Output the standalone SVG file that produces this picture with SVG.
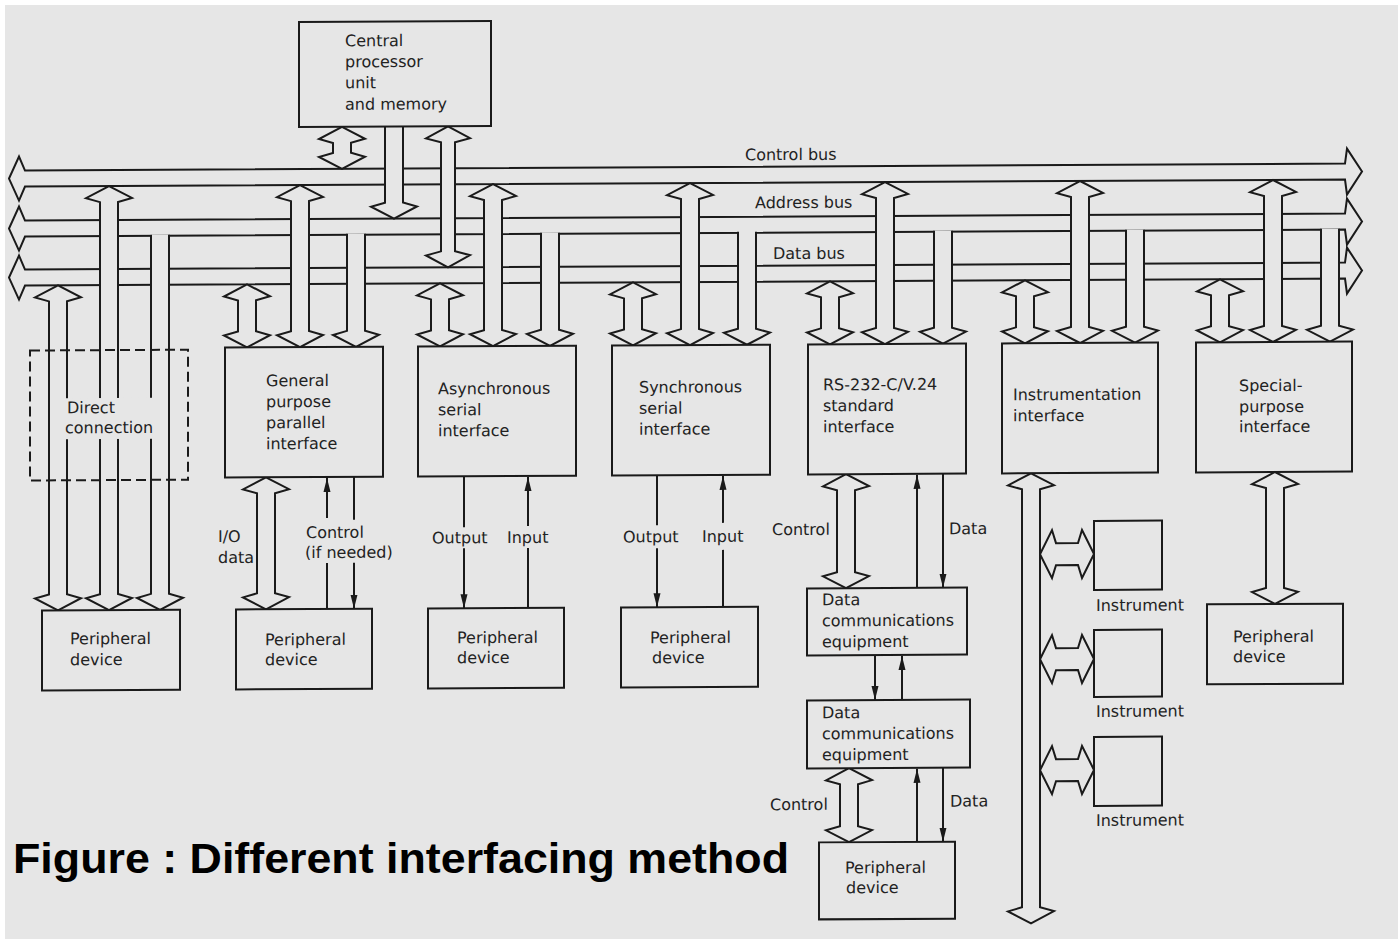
<svg xmlns="http://www.w3.org/2000/svg" width="1400" height="941" viewBox="0 0 1400 941">
<defs>
<style>
.arr{fill:#e6e6e6;stroke:#1a1a1a;stroke-width:2;stroke-linejoin:miter}
.box{fill:#e6e6e6;stroke:#1a1a1a;stroke-width:2}
.dash{fill:none;stroke:#1a1a1a;stroke-width:2;stroke-dasharray:10 5}
.ln{fill:none;stroke:#1a1a1a;stroke-width:2}
.ar{fill:none;stroke:#1a1a1a;stroke-width:2;marker-end:url(#ah)}
.t{font-family:"DejaVu Sans","Liberation Sans",sans-serif;font-size:16px;fill:#222}
.cap{font-family:"Liberation Sans",Arial,sans-serif;font-weight:bold;font-size:43px;fill:#000}
</style>
<marker id="ah" markerUnits="userSpaceOnUse" markerWidth="14" markerHeight="8" refX="14" refY="4" orient="auto">
<path d="M0,0.5 L14,4 L0,7.5 Z" fill="#1a1a1a"/>
</marker>
</defs>
<rect x="0" y="0" width="1400" height="941" fill="#ffffff"/>
<rect x="5" y="5" width="1393" height="934" fill="#e6e6e6"/>
<g transform="translate(0,3.665) skewY(-0.3)">
<g id="connectors">
<!-- buses -->
<path class="arr" d="M25,167 L1345,167 L1347,152 L1362,175 L1347,198 L1345,183 L25,183 L19,197 L9,175 L19,153 Z"/>
<path class="arr" d="M25,217 L1345,217 L1347,202 L1362,225 L1347,248 L1345,233 L25,233 L19,247 L9,225 L19,203 Z"/>
<path class="arr" d="M25,266 L1345,266 L1347,251 L1362,274 L1347,297 L1345,282 L25,282 L19,296 L9,274 L19,252 Z"/>
<!-- CPU links -->
<path class="arr" d="M342,125 L365,137 L351,141 L351,151 L365,155 L342,167 L319,155 L333,151 L333,141 L319,137 Z"/>
<path class="arr" d="M385,125 L385,201 L371,205 L394,217 L417,205 L403,201 L403,125"/>
<path class="arr" d="M448,125 L470,137 L455,141 L455,250 L470,254 L448,266 L426,254 L441,250 L441,141 L426,137 Z"/>
<!-- direct connection -->
<path class="arr" d="M58,282 L81,294 L67,298 L67,591 L81,595 L58,607 L35,595 L49,591 L49,298 L35,294 Z"/>
<path class="arr" d="M109,183 L132,195 L118,199 L118,591 L132,595 L109,607 L86,595 L100,591 L100,199 L86,195 Z"/>
<path class="arr" d="M151,232 L151,591 L137,595 L160,607 L183,595 L169,591 L169,232"/>
<!-- general purpose -->
<path class="arr" d="M247,282 L270,294 L256,298 L256,329 L270,333 L247,345 L224,333 L238,329 L238,298 L224,294 Z"/>
<path class="arr" d="M300,183 L323,195 L309,199 L309,329 L323,333 L300,345 L277,333 L291,329 L291,199 L277,195 Z"/>
<path class="arr" d="M347,232 L347,329 L333,333 L356,345 L379,333 L365,329 L365,232"/>
<!-- async -->
<path class="arr" d="M440,282 L463,294 L449,298 L449,329 L463,333 L440,345 L417,333 L431,329 L431,298 L417,294 Z"/>
<path class="arr" d="M493,183 L516,195 L502,199 L502,329 L516,333 L493,345 L470,333 L484,329 L484,199 L470,195 Z"/>
<path class="arr" d="M541,232 L541,329 L527,333 L550,345 L573,333 L559,329 L559,232"/>
<!-- sync -->
<path class="arr" d="M633,282 L656,294 L642,298 L642,329 L656,333 L633,345 L610,333 L624,329 L624,298 L610,294 Z"/>
<path class="arr" d="M690,183 L713,195 L699,199 L699,329 L713,333 L690,345 L667,333 L681,329 L681,199 L667,195 Z"/>
<path class="arr" d="M738,232 L738,329 L724,333 L747,345 L770,333 L756,329 L756,232"/>
<!-- RS-232 -->
<path class="arr" d="M830,282 L853,294 L839,298 L839,329 L853,333 L830,345 L807,333 L821,329 L821,298 L807,294 Z"/>
<path class="arr" d="M885,183 L908,195 L894,199 L894,329 L908,333 L885,345 L862,333 L876,329 L876,199 L862,195 Z"/>
<path class="arr" d="M934,232 L934,329 L920,333 L943,345 L966,333 L952,329 L952,232"/>
<!-- instrumentation -->
<path class="arr" d="M1025,282 L1048,294 L1034,298 L1034,329 L1048,333 L1025,345 L1002,333 L1016,329 L1016,298 L1002,294 Z"/>
<path class="arr" d="M1080,183 L1103,195 L1089,199 L1089,329 L1103,333 L1080,345 L1057,333 L1071,329 L1071,199 L1057,195 Z"/>
<path class="arr" d="M1126,232 L1126,329 L1112,333 L1135,345 L1158,333 L1144,329 L1144,232"/>
<!-- special -->
<path class="arr" d="M1220,282 L1243,294 L1229,298 L1229,329 L1243,333 L1220,345 L1197,333 L1211,329 L1211,298 L1197,294 Z"/>
<path class="arr" d="M1273,183 L1296,195 L1282,199 L1282,329 L1296,333 L1273,345 L1250,333 L1264,329 L1264,199 L1250,195 Z"/>
<path class="arr" d="M1321,232 L1321,329 L1307,333 L1330,345 L1353,333 L1339,329 L1339,232"/>
<!-- below interfaces -->
<path class="arr" d="M266,475 L289,487 L275,491 L275,591 L289,595 L266,607 L243,595 L257,591 L257,491 L243,487 Z"/>
<path class="arr" d="M1275,475 L1298,487 L1284,491 L1284,591 L1298,595 L1275,607 L1252,595 L1266,591 L1266,491 L1252,487 Z"/>
<path class="arr" d="M846,475 L869,487 L855,491 L855,573 L869,577 L846,589 L823,577 L837,573 L837,491 L823,487 Z"/>
<path class="arr" d="M849,769 L872,781 L858,785 L858,827 L872,831 L849,843 L826,831 L840,827 L840,785 L826,781 Z"/>
<path class="arr" d="M1031,475 L1054,487 L1040,491 L1040,909 L1054,913 L1031,925 L1008,913 L1022,909 L1022,491 L1008,487 Z"/>
<path class="arr" d="M1040,556 L1052,532 L1056,545 L1078,545 L1082,532 L1094,556 L1082,580 L1078,567 L1056,567 L1052,580 Z"/>
<path class="arr" d="M1040,661 L1052,637 L1056,650 L1078,650 L1082,637 L1094,661 L1082,685 L1078,672 L1056,672 L1052,685 Z"/>
<path class="arr" d="M1040,772 L1052,748 L1056,761 L1078,761 L1082,748 L1094,772 L1082,796 L1078,783 L1056,783 L1052,796 Z"/>
<!-- thin signal lines -->
<line class="ln" x1="327" y1="607" x2="327" y2="561"/>
<line class="ar" x1="327" y1="516" x2="327" y2="476"/>
<line class="ln" x1="354" y1="475" x2="354" y2="518"/>
<line class="ar" x1="354" y1="561" x2="354" y2="607"/>
<line class="ln" x1="464" y1="475" x2="464" y2="526"/>
<line class="ar" x1="464" y1="547" x2="464" y2="607"/>
<line class="ln" x1="528" y1="607" x2="528" y2="547"/>
<line class="ar" x1="528" y1="525" x2="528" y2="476"/>
<line class="ln" x1="657" y1="475" x2="657" y2="525"/>
<line class="ar" x1="657" y1="548" x2="657" y2="607"/>
<line class="ln" x1="723" y1="607" x2="723" y2="550"/>
<line class="ar" x1="723" y1="523" x2="723" y2="476"/>
<line class="ar" x1="917" y1="589" x2="917" y2="476"/>
<line class="ar" x1="943" y1="475" x2="943" y2="589"/>
<line class="ar" x1="875" y1="656" x2="875" y2="701"/>
<line class="ar" x1="902" y1="701" x2="902" y2="657"/>
<line class="ar" x1="917" y1="843" x2="917" y2="770"/>
<line class="ar" x1="943" y1="769" x2="943" y2="843"/>
</g>
<g id="bus-labels">
<text class="t" x="745" y="160.5">Control bus</text>
<text class="t" x="755" y="208.5">Address bus</text>
<text class="t" x="773" y="259.5">Data bus</text>
</g>
<g id="cpu">
<rect class="box" x="299" y="20" width="192" height="105"/>
<text class="t" x="345" y="44.5">Central</text>
<text class="t" x="345" y="65.5">processor</text>
<text class="t" x="345" y="86.5">unit</text>
<text class="t" x="345" y="108">and memory</text>
</g>
<g id="direct-connection">
<rect x="62" y="395" width="96" height="41" fill="#e6e6e6"/>
<rect class="dash" x="30" y="347" width="158" height="130"/>
<text class="t" x="67" y="410">Direct</text>
<text class="t" x="65" y="430">connection</text>
</g>
<g id="periph-direct">
<rect class="box" x="42" y="607" width="138" height="80"/>
<text class="t" x="70" y="641">Peripheral</text>
<text class="t" x="70" y="662">device</text>
</g>
<g id="general-purpose">
<rect class="box" x="225" y="345" width="158" height="130"/>
<text class="t" x="266" y="384">General</text>
<text class="t" x="266" y="405">purpose</text>
<text class="t" x="266" y="426">parallel</text>
<text class="t" x="266" y="447">interface</text>
</g>
<g id="gp-labels">
<text class="t" x="218" y="539.5">I/O</text>
<text class="t" x="218" y="560.5">data</text>
<text class="t" x="306" y="536">Control</text>
<text class="t" x="305" y="556">(if needed)</text>
</g>
<g id="periph-gp">
<rect class="box" x="236" y="607" width="136" height="80"/>
<text class="t" x="265" y="643">Peripheral</text>
<text class="t" x="265" y="663">device</text>
</g>
<g id="async">
<rect class="box" x="418" y="345" width="158" height="130"/>
<text class="t" x="438" y="393">Asynchronous</text>
<text class="t" x="438" y="414">serial</text>
<text class="t" x="438" y="435">interface</text>
<text class="t" x="432" y="542">Output</text>
<text class="t" x="507" y="542">Input</text>
</g>
<g id="periph-async">
<rect class="box" x="428" y="607" width="136" height="80"/>
<text class="t" x="457" y="642">Peripheral</text>
<text class="t" x="457" y="662">device</text>
</g>
<g id="sync">
<rect class="box" x="612" y="345" width="158" height="130"/>
<text class="t" x="639" y="392.5">Synchronous</text>
<text class="t" x="639" y="413.5">serial</text>
<text class="t" x="639" y="434.5">interface</text>
<text class="t" x="623" y="542">Output</text>
<text class="t" x="702" y="542">Input</text>
</g>
<g id="periph-sync">
<rect class="box" x="621" y="607" width="137" height="80"/>
<text class="t" x="650" y="643">Peripheral</text>
<text class="t" x="652" y="663">device</text>
</g>
<g id="rs232">
<rect class="box" x="808" y="345" width="158" height="130"/>
<text class="t" x="823" y="391">RS-232-C/V.24</text>
<text class="t" x="823" y="412">standard</text>
<text class="t" x="823" y="433">interface</text>
<text class="t" x="772" y="535.5">Control</text>
<text class="t" x="949" y="535.5">Data</text>
</g>
<g id="dce1">
<rect class="box" x="807" y="589" width="160" height="67"/>
<text class="t" x="822" y="606">Data</text>
<text class="t" x="822" y="627">communications</text>
<text class="t" x="822" y="648">equipment</text>
</g>
<g id="dce2">
<rect class="box" x="807" y="701" width="163" height="68"/>
<text class="t" x="822" y="719">Data</text>
<text class="t" x="822" y="740">communications</text>
<text class="t" x="822" y="761">equipment</text>
<text class="t" x="770" y="810.5">Control</text>
<text class="t" x="950" y="808">Data</text>
</g>
<g id="periph-rs">
<rect class="box" x="819" y="843" width="136" height="77"/>
<text class="t" x="845" y="874">Peripheral</text>
<text class="t" x="846" y="894">device</text>
</g>
<g id="instrumentation">
<rect class="box" x="1002" y="345" width="156" height="130"/>
<text class="t" x="1013" y="402">Instrumentation</text>
<text class="t" x="1013" y="423">interface</text>
</g>
<g id="instrument1">
<rect class="box" x="1094" y="523" width="68" height="69"/>
<text class="t" x="1096" y="613">Instrument</text>
</g>
<g id="instrument2">
<rect class="box" x="1094" y="632" width="68" height="67"/>
<text class="t" x="1096" y="719">Instrument</text>
</g>
<g id="instrument3">
<rect class="box" x="1094" y="739" width="68" height="69"/>
<text class="t" x="1096" y="828">Instrument</text>
</g>
<g id="special">
<rect class="box" x="1196" y="345" width="156" height="130"/>
<text class="t" x="1239" y="394">Special-</text>
<text class="t" x="1239" y="415">purpose</text>
<text class="t" x="1239" y="435">interface</text>
</g>
<g id="periph-special">
<rect class="box" x="1207" y="607" width="136" height="80"/>
<text class="t" x="1233" y="645">Peripheral</text>
<text class="t" x="1233" y="665">device</text>
</g>
</g>
<text class="cap" x="13" y="873" textLength="776" lengthAdjust="spacingAndGlyphs">Figure : Different interfacing method</text>
</svg>
